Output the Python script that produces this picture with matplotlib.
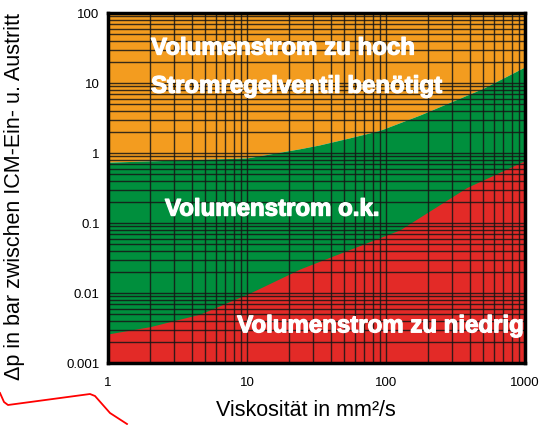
import numpy as np
import matplotlib.pyplot as plt
import matplotlib.patheffects as pe
from matplotlib.lines import Line2D

plt.rcParams['font.family'] = ['Liberation Sans', 'DejaVu Sans']

# Grenze orange/gruen (Volumenstrom zu hoch)
x_upper = [1, 10, 24, 33, 55, 90, 176, 500, 1000]
y_upper = [0.74, 0.85, 1.15, 1.3, 1.65, 2.1, 3.5, 8.4, 17]
# Grenze gruen/rot (Volumenstrom zu niedrig)
x_lower = [1, 2.0, 4.6, 10.5, 24, 126, 380, 1000]
y_lower = [0.0026, 0.0033, 0.005, 0.01, 0.022, 0.08, 0.32, 0.78]

x_ticks = [1, 10, 100, 1000]
x_ticklabels = ['1', '10', '100', '1000']
y_ticks = [0.001, 0.01, 0.1, 1, 10, 100]
y_ticklabels = ['0.001', '0.01', '0.1', '1', '10', '100']

# rote Kritzellinie unten links (Pixel im Bild)
squiggle_px = [(0, 393), (4, 402), (8, 405), (90, 394), (95, 396), (110, 413), (127, 424)]

orange = '#f39c1f'
green = '#008f3d'
red = '#e32a27'

fig = plt.figure(figsize=(5.42, 4.25), dpi=100)
ax = fig.add_axes([108 / 542, 1 - 363 / 425, (525 - 108) / 542, (363 - 13) / 425])
ax.set_xscale('log')
ax.set_yscale('log')
ax.set_xlim(1, 1000)
ax.set_ylim(0.001, 100)

ax.fill_between(x_upper, y_upper, 100, color=orange, lw=0, zorder=1)
ax.fill_between(x_upper, 0.001, y_upper, color=green, lw=0, zorder=1)
ax.fill_between(x_lower, 0.001, y_lower, color=red, lw=0, zorder=1.1)

ax.set_axisbelow(False)
ax.grid(True, which='both', color='#161616', lw=1.0, alpha=0.85)

txt = dict(color='white', fontweight='bold', fontsize=17.3, va='center', ha='left', zorder=4,
           path_effects=[pe.withStroke(linewidth=0.9, foreground='white')])
ax.text(2.04, 31.6, 'Volumenstrom zu hoch', **txt)
ax.text(2.04, 9.0, 'Stromregelventil benötigt', **txt)
ax.text(2.57, 0.158, 'Volumenstrom o.k.', **txt)
ax.text(8.5, 0.0034, 'Volumenstrom zu niedrig', **txt)

ax.set_xticks(x_ticks, x_ticklabels)
ax.set_yticks(y_ticks, y_ticklabels)
ax.tick_params(which='both', length=0, labelsize=9.5)
ax.tick_params(axis='x', pad=10)
ax.tick_params(axis='y', pad=6)

for s in ax.spines.values():
    s.set_linewidth(2.5)
    s.set_color('black')
    s.set_zorder(5)

ax.set_xlabel('Viskosität in mm²/s', fontsize=15.5)
ax.set_ylabel('Δp in bar zwischen ICM-Ein- u. Austritt', fontsize=15.5)
ax.xaxis.set_label_coords((306 - 108) / 417, (363 - 410) / 350)
ax.yaxis.set_label_coords((15 - 108) / 417, (363 - 197) / 350)
ax.xaxis.label.set_va('center')
ax.yaxis.label.set_va('center')

sx = [p[0] / 542 for p in squiggle_px]
sy = [1 - p[1] / 425 for p in squiggle_px]
fig.add_artist(Line2D(sx, sy, transform=fig.transFigure, color='red', lw=1.3))

fig.savefig('out.png', dpi=100)
